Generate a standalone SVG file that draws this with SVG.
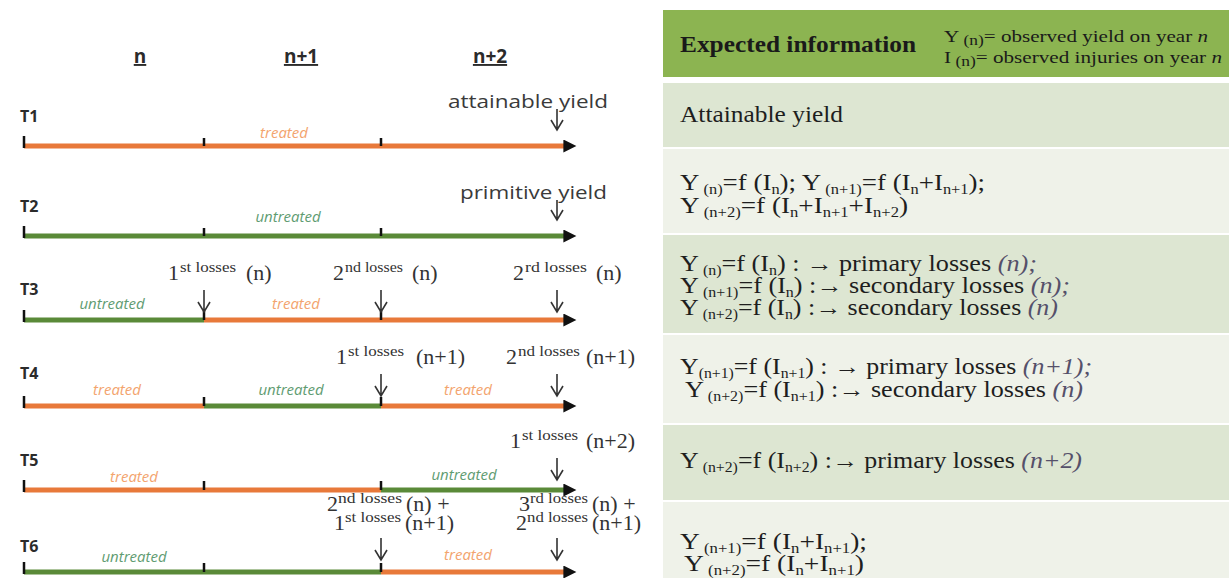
<svg xmlns="http://www.w3.org/2000/svg" width="1229" height="578" viewBox="0 0 1229 578">
<style>
.yr{font-family:"Open Sans","Liberation Sans",sans-serif;font-weight:bold;font-size:19px;fill:#2b2b2b;text-decoration:underline;text-anchor:middle}
.tl{font-family:"Open Sans","Liberation Sans",sans-serif;font-weight:bold;font-size:16px;fill:#2b2b2b}
.yl{font-family:"Open Sans","Liberation Sans",sans-serif;font-size:19px;fill:#3a3a3a}
.tr{font-family:"Open Sans","Liberation Sans",sans-serif;font-style:italic;font-size:15px;fill:#f3a46e;text-anchor:middle}
.un{font-family:"Open Sans","Liberation Sans",sans-serif;font-style:italic;font-size:15px;fill:#5f9c72;text-anchor:middle}
.lb{font-family:"Liberation Serif","Times New Roman",serif;font-size:22px;fill:#333}
.sp{font-size:14px}
.or{stroke:#e8793a;stroke-width:5;fill:none}
.gr{stroke:#5a8a38;stroke-width:5;fill:none}
.tk{stroke:#111;stroke-width:2.5;fill:none}
.da{stroke:#333;stroke-width:1.6;fill:none}
.tx{font-family:"Liberation Serif","Times New Roman",serif;font-size:23px;fill:#1e1e1e}
.s{font-size:14px}
.it{font-style:italic;fill:#55506a}
.hd{font-family:"Liberation Serif","Times New Roman",serif;font-weight:bold;font-size:23px;fill:#1a1a1a}
.lg{font-family:"Liberation Serif","Times New Roman",serif;font-size:17px;fill:#1a1a1a}
.dark{fill:#dde6d2}
.light{fill:#eff2e9}
</style>
<defs>
<marker id="ah" viewBox="0 0 10 10" refX="2" refY="5" markerWidth="3" markerHeight="2.6" orient="auto" markerUnits="strokeWidth">
<path d="M0,0 L10,5 L0,10 z" fill="#111"/>
</marker>
</defs>

<g id="years">
<text class="yr" x="140" y="63">n</text>
<text class="yr" x="301" y="63">n+1</text>
<text class="yr" x="490" y="63">n+2</text>
</g>

<g id="connectors">
<path class="or" d="M24,146 H566" marker-end="url(#ah)"/>
<path class="gr" d="M24,236 H566" marker-end="url(#ah)"/>
<path class="gr" d="M24,320 H204"/>
<path class="or" d="M204,320 H566" marker-end="url(#ah)"/>
<path class="or" d="M24,406 H204"/>
<path class="gr" d="M204,406 H381"/>
<path class="or" d="M381,406 H566" marker-end="url(#ah)"/>
<path class="or" d="M24,490 H381"/>
<path class="gr" d="M381,490 H566" marker-end="url(#ah)"/>
<path class="gr" d="M24,572 H381"/>
<path class="or" d="M381,572 H566" marker-end="url(#ah)"/>
<path class="tk" d="M24,136 V148 M204,138 V146 M381,138 V146"/>
<path class="tk" d="M24,226 V238 M204,228 V236 M381,228 V236"/>
<path class="tk" d="M24,310 V322 M204,311 V320 M381,311 V320"/>
<path class="tk" d="M24,396 V408 M204,397 V406 M381,397 V406"/>
<path class="tk" d="M24,480 V492 M204,481 V490 M381,481 V490"/>
<path class="tk" d="M24,562 V574 M204,563 V572 M381,563 V572"/>
<path class="da" d="M557,109 V130 M551,120 L557,130 L563,120"/>
<path class="da" d="M557,200 V220 M551,210 L557,220 L563,210"/>
<path class="da" d="M204,290 V312 M198,302 L204,312 L210,302"/>
<path class="da" d="M381,290 V312 M375,302 L381,312 L387,302"/>
<path class="da" d="M557,290 V312 M551,302 L557,312 L563,302"/>
<path class="da" d="M381,374 V396 M375,386 L381,396 L387,386"/>
<path class="da" d="M557,374 V396 M551,386 L557,396 L563,386"/>
<path class="da" d="M557,458 V480 M551,470 L557,480 L563,470"/>
<path class="da" d="M381,538 V560 M375,550 L381,560 L387,550"/>
<path class="da" d="M557,538 V560 M551,550 L557,560 L563,550"/>
</g>

<g id="T1">
<text class="tl" x="20" y="122">T1</text>
<text class="tr" x="284" y="138">treated</text>
<text class="yl" x="448" y="108" textLength="160" lengthAdjust="spacingAndGlyphs">attainable yield</text>
</g>

<g id="T2">
<text class="tl" x="20" y="212">T2</text>
<text class="un" x="288" y="222">untreated</text>
<text class="yl" x="460" y="199" textLength="147" lengthAdjust="spacingAndGlyphs">primitive  yield</text>
</g>

<g id="T3">
<text class="tl" x="20" y="295">T3</text>
<text class="un" x="112" y="309">untreated</text>
<text class="tr" x="296" y="309">treated</text>
<text class="lb" y="280"><tspan x="168">1</tspan><tspan class="sp" x="180" dy="-8" textLength="56" lengthAdjust="spacingAndGlyphs">st losses</tspan><tspan x="246" dy="8">(n)</tspan></text>
<text class="lb" y="280"><tspan x="333">2</tspan><tspan class="sp" x="345" dy="-8" textLength="58" lengthAdjust="spacingAndGlyphs">nd losses</tspan><tspan x="412" dy="8">(n)</tspan></text>
<text class="lb" y="280"><tspan x="513">2</tspan><tspan class="sp" x="525" dy="-8" textLength="62" lengthAdjust="spacingAndGlyphs">rd losses</tspan><tspan x="596" dy="8">(n)</tspan></text>
</g>

<g id="T4">
<text class="tl" x="20" y="379">T4</text>
<text class="tr" x="117" y="395">treated</text>
<text class="un" x="291" y="395">untreated</text>
<text class="tr" x="468" y="395">treated</text>
<text class="lb" y="364"><tspan x="336">1</tspan><tspan class="sp" x="348" dy="-8" textLength="56" lengthAdjust="spacingAndGlyphs">st losses</tspan><tspan x="416" dy="8">(n+1)</tspan></text>
<text class="lb" y="364"><tspan x="506">2</tspan><tspan class="sp" x="518" dy="-8" textLength="62" lengthAdjust="spacingAndGlyphs">nd losses</tspan><tspan x="586" dy="8">(n+1)</tspan></text>
</g>

<g id="T5">
<text class="tl" x="20" y="466">T5</text>
<text class="tr" x="134" y="482">treated</text>
<text class="un" x="464" y="480">untreated</text>
<text class="lb" y="448"><tspan x="510">1</tspan><tspan class="sp" x="522" dy="-8" textLength="56" lengthAdjust="spacingAndGlyphs">st losses</tspan><tspan x="586" dy="8">(n+2)</tspan></text>
</g>

<g id="T6">
<text class="tl" x="20" y="552">T6</text>
<text class="un" x="134" y="562">untreated</text>
<text class="tr" x="468" y="560">treated</text>
<text class="lb" y="511"><tspan x="327">2</tspan><tspan class="sp" x="338" dy="-8" textLength="64" lengthAdjust="spacingAndGlyphs">nd losses</tspan><tspan x="406" dy="8">(n) +</tspan></text>
<text class="lb" y="530"><tspan x="334">1</tspan><tspan class="sp" x="345" dy="-8" textLength="56" lengthAdjust="spacingAndGlyphs">st losses</tspan><tspan x="405" dy="8">(n+1)</tspan></text>
<text class="lb" y="511"><tspan x="519">3</tspan><tspan class="sp" x="530" dy="-8" textLength="58" lengthAdjust="spacingAndGlyphs">rd losses</tspan><tspan x="592" dy="8">(n) +</tspan></text>
<text class="lb" y="530"><tspan x="516">2</tspan><tspan class="sp" x="527" dy="-8" textLength="61" lengthAdjust="spacingAndGlyphs">nd losses</tspan><tspan x="592" dy="8">(n+1)</tspan></text>
</g>

<g id="table">
<rect x="663" y="10" width="566" height="67" fill="#8cb451"/>
<text class="hd" x="680" y="52" textLength="236" lengthAdjust="spacingAndGlyphs">Expected information</text>
<text class="lg" x="944" y="42" textLength="264" lengthAdjust="spacingAndGlyphs">Y<tspan class="s" dy="3"> (n)</tspan><tspan dy="-3">= observed yield on year </tspan><tspan font-style="italic">n</tspan></text>
<text class="lg" x="944" y="63" textLength="278" lengthAdjust="spacingAndGlyphs">I<tspan class="s" dy="3"> (n)</tspan><tspan dy="-3">= observed injuries  on year </tspan><tspan font-style="italic">n</tspan></text>
</g>

<g id="row1">
<rect class="dark" x="663" y="83" width="566" height="64"/>
<text class="tx" x="680" y="122" textLength="163" lengthAdjust="spacingAndGlyphs">Attainable yield</text>
</g>

<g id="row2">
<rect class="light" x="663" y="149" width="566" height="84"/>
<text class="tx" x="680" y="190" textLength="305" lengthAdjust="spacingAndGlyphs">Y<tspan class="s" dy="4"> (n)</tspan><tspan dy="-4">=f (I</tspan><tspan class="s" dy="4">n</tspan><tspan dy="-4">); Y</tspan><tspan class="s" dy="4"> (n+1)</tspan><tspan dy="-4">=f (I</tspan><tspan class="s" dy="4">n</tspan><tspan dy="-4">+I</tspan><tspan class="s" dy="4">n+1</tspan><tspan dy="-4">);</tspan></text>
<text class="tx" x="680" y="213" textLength="228" lengthAdjust="spacingAndGlyphs">Y<tspan class="s" dy="4"> (n+2)</tspan><tspan dy="-4">=f (I</tspan><tspan class="s" dy="4">n</tspan><tspan dy="-4">+I</tspan><tspan class="s" dy="4">n+1</tspan><tspan dy="-4">+I</tspan><tspan class="s" dy="4">n+2</tspan><tspan dy="-4">)</tspan></text>
</g>

<g id="row3">
<rect class="dark" x="663" y="235" width="566" height="98"/>
<text class="tx" x="680" y="271" textLength="357" lengthAdjust="spacingAndGlyphs">Y<tspan class="s" dy="4"> (n)</tspan><tspan dy="-4">=f (I</tspan><tspan class="s" dy="4">n</tspan><tspan dy="-4">) : → primary losses  </tspan><tspan class="it">(n);</tspan></text>
<text class="tx" x="680" y="293" textLength="390" lengthAdjust="spacingAndGlyphs">Y<tspan class="s" dy="4"> (n+1)</tspan><tspan dy="-4">=f (I</tspan><tspan class="s" dy="4">n</tspan><tspan dy="-4">) :→ secondary  losses  </tspan><tspan class="it">(n);</tspan></text>
<text class="tx" x="680" y="315" textLength="378" lengthAdjust="spacingAndGlyphs">Y<tspan class="s" dy="4"> (n+2)</tspan><tspan dy="-4">=f (I</tspan><tspan class="s" dy="4">n</tspan><tspan dy="-4">) :→ secondary  losses  </tspan><tspan class="it">(n)</tspan></text>
</g>

<g id="row4">
<rect class="light" x="663" y="335" width="566" height="88"/>
<text class="tx" x="680" y="374" textLength="412" lengthAdjust="spacingAndGlyphs">Y<tspan class="s" dy="4">(n+1)</tspan><tspan dy="-4">=f (I</tspan><tspan class="s" dy="4">n+1</tspan><tspan dy="-4">) : → primary losses  </tspan><tspan class="it">(n+1);</tspan></text>
<text class="tx" x="685" y="397" textLength="398" lengthAdjust="spacingAndGlyphs">Y<tspan class="s" dy="4"> (n+2)</tspan><tspan dy="-4">=f (I</tspan><tspan class="s" dy="4">n+1</tspan><tspan dy="-4">) :→ secondary  losses  </tspan><tspan class="it">(n)</tspan></text>
</g>

<g id="row5">
<rect class="dark" x="663" y="425" width="566" height="75"/>
<text class="tx" x="680" y="468" textLength="402" lengthAdjust="spacingAndGlyphs">Y<tspan class="s" dy="4"> (n+2)</tspan><tspan dy="-4">=f (I</tspan><tspan class="s" dy="4">n+2</tspan><tspan dy="-4">) :→ primary losses  </tspan><tspan class="it">(n+2)</tspan></text>
</g>

<g id="row6">
<rect class="light" x="663" y="502" width="566" height="76"/>
<text class="tx" x="680" y="549" textLength="187" lengthAdjust="spacingAndGlyphs">Y<tspan class="s" dy="4"> (n+1)</tspan><tspan dy="-4">=f (I</tspan><tspan class="s" dy="4">n</tspan><tspan dy="-4">+I</tspan><tspan class="s" dy="4">n+1</tspan><tspan dy="-4">);</tspan></text>
<text class="tx" x="684" y="571" textLength="180" lengthAdjust="spacingAndGlyphs">Y<tspan class="s" dy="4"> (n+2)</tspan><tspan dy="-4">=f (I</tspan><tspan class="s" dy="4">n</tspan><tspan dy="-4">+I</tspan><tspan class="s" dy="4">n+1</tspan><tspan dy="-4">)</tspan></text>
</g>
</svg>
